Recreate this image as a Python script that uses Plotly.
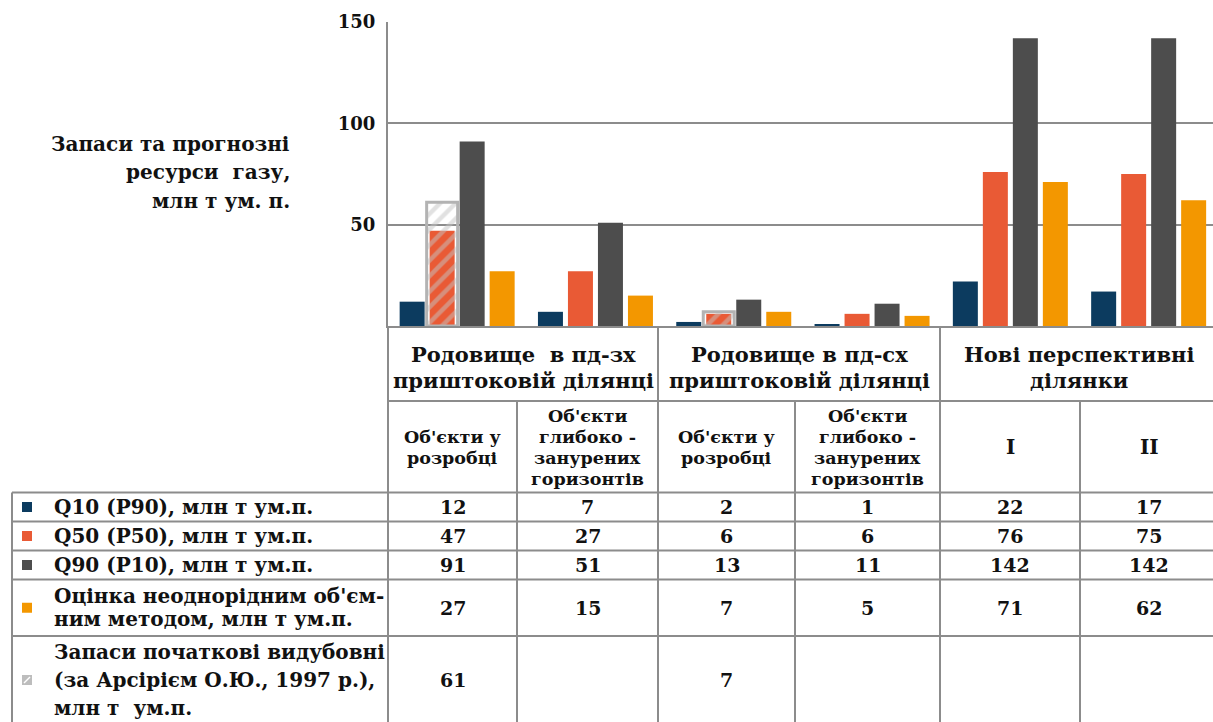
import plotly.graph_objects as go

# ---------------- data ----------------
group_headers = [["Родовище  в пд-зх", "приштоковій ділянці"],
                 ["Родовище в пд-сх", "приштоковій ділянці"],
                 ["Нові перспективні", "ділянки"]]
subcategories = [["Об'єкти у", "розробці"],
                 ["Об'єкти", "глибоко -", "занурених", "горизонтів"],
                 ["Об'єкти у", "розробці"],
                 ["Об'єкти", "глибоко -", "занурених", "горизонтів"],
                 ["I"], ["II"]]
q10 = [12, 7, 2, 1, 22, 17]
q50 = [47, 27, 6, 6, 76, 75]
q90 = [91, 51, 13, 11, 142, 142]
volumetric = [27, 15, 7, 5, 71, 62]
initial_reserves = [61, None, 7, None, None, None]

series_names = [["Q10 (P90), млн т ум.п."],
                ["Q50 (P50), млн т ум.п."],
                ["Q90 (P10), млн т ум.п."],
                ["Оцінка неоднорідним об'єм-", "ним методом, млн т ум.п."],
                ["Запаси початкові видубовні", "(за Арсірієм О.Ю., 1997 р.),", "млн т  ум.п."]]
y_title_lines = ["Запаси та прогнозні", "ресурси  газу,", "млн т ум. п."]
y_ticks = [50, 100, 150]

# ---------------- style ----------------
FONT = "DejaVu Serif"
C_Q10 = "#0c3b5f"
C_Q50 = "#e95a35"
C_Q90 = "#4d4d4d"
C_VOL = "#f39700"
C_HATCH = "#b3b3b3"
GRID = "#8c8c8c"
TXT = "#111111"

W, H = 1213, 722
L, T = 388, 22
PW, PH = W - L, 304
CAT_PX = 138.3


def px(x):
    return (x - L) / PW


def py(y):
    return (T + PH - y) / PH


xs = list(range(len(q10)))
bw = 25 / CAT_PX
fig = go.Figure()
for vals, col, off, name in [(q10, C_Q10, -57.5, series_names[0][0]),
                             (q50, C_Q50, -27.5, series_names[1][0]),
                             (q90, C_Q90, 2.5, series_names[2][0]),
                             (volumetric, C_VOL, 32.5, " ".join(series_names[3]))]:
    fig.add_trace(go.Bar(x=xs, y=vals, width=bw, offset=off / CAT_PX,
                         marker=dict(color=col, line=dict(width=0)),
                         name=name, showlegend=False))

fig.add_trace(go.Bar(x=xs, y=initial_reserves, width=31 / CAT_PX,
                     offset=-30.5 / CAT_PX, name=" ".join(series_names[4]),
                     showlegend=False,
                     marker=dict(color="rgba(0,0,0,0)",
                                 line=dict(color=C_HATCH, width=3),
                                 pattern=dict(shape="/", fgcolor="#c4c4c4",
                                              bgcolor="rgba(0,0,0,0)",
                                              size=11, solidity=0.4,
                                              fillmode="overlay"))))

shapes = []


def hline(y, x0, x1):
    shapes.append(dict(type="line", xref="paper", yref="paper",
                       x0=px(x0), x1=px(x1), y0=py(y), y1=py(y),
                       line=dict(color=GRID, width=2)))


def vline(x, y0, y1):
    shapes.append(dict(type="line", xref="paper", yref="paper",
                       x0=px(x), x1=px(x), y0=py(y0), y1=py(y1),
                       line=dict(color=GRID, width=2)))


col_edges = [388, 517, 658, 795, 940, 1080, 1218]
row_edges = [492.5, 521.5, 550.5, 579.5, 636, 730]

# table lines
hline(401, 388, 1220)
for y in row_edges[:-1]:
    hline(y, 12, 1220)
vline(388, 326, 730)
vline(12, 492.5, 730)
for i, x in enumerate(col_edges[1:-1], start=1):
    vline(x, 326 if i % 2 == 0 else 401, 730)

annotations = []


def text(x, y, s, size, anchor="center"):
    annotations.append(dict(xref="paper", yref="paper", x=px(x), y=py(y),
                            text=f"<b>{s}</b>", showarrow=False, xanchor=anchor,
                            yanchor="middle",
                            font=dict(family=FONT, size=size, color=TXT)))


def lines(x, yc, parts, size, spacing, anchor="center"):
    n = len(parts)
    for k, p in enumerate(parts):
        text(x, yc + (k - (n - 1) / 2) * spacing, p, size, anchor)


# y axis title
lines(292, 172, y_title_lines, 20, 28.5, "right")

# group headers
for g, hdr in enumerate(group_headers):
    cx = (col_edges[2 * g] + col_edges[2 * g + 2]) / 2
    lines(cx, 367, hdr, 21, 26)

# subcategories
for i, sc in enumerate(subcategories):
    cx = (col_edges[i] + col_edges[i + 1]) / 2
    lines(cx, 447, sc, 20 if len(sc) == 1 else 17.5, 21)

# legend rows + values
series_vals = [q10, q50, q90, volumetric, initial_reserves]
swatch_cols = [C_Q10, C_Q50, C_Q90, C_VOL, "#bdbdbd"]
for r, (name, vals, sc) in enumerate(zip(series_names, series_vals, swatch_cols)):
    yc = (row_edges[r] + row_edges[r + 1]) / 2
    if r == 4:
        yc = 680
    lines(52, yc, name, 20, 23 if r == 3 else 28, "left")
    shapes.append(dict(type="rect", xref="paper", yref="paper",
                       x0=px(22), x1=px(32), y0=py(yc - 5), y1=py(yc + 5),
                       fillcolor=sc, line=dict(width=0)))
    if r == 4:
        shapes.append(dict(type="line", xref="paper", yref="paper",
                           x0=px(24), x1=px(30), y0=py(yc + 3), y1=py(yc - 3),
                           line=dict(color="white", width=1.5)))
    for i, v in enumerate(vals):
        if v is None:
            continue
        cx = (col_edges[i] + col_edges[i + 1]) / 2
        text(cx, yc, v, 19)

fig.update_layout(
    width=W, height=H,
    margin=dict(l=L, r=0, t=T, b=H - T - PH),
    plot_bgcolor="white", paper_bgcolor="white",
    barmode="overlay",
    shapes=shapes, annotations=annotations,
    font=dict(family=FONT, color=TXT),
    xaxis=dict(range=[-0.5, -0.5 + PW / CAT_PX], showticklabels=False,
               showgrid=False, zeroline=False, showline=True,
               linecolor=GRID, linewidth=2, ticks=""),
    yaxis=dict(range=[0, 150], tickvals=y_ticks,
               ticktext=[f"<b>{t}</b>" for t in y_ticks],
               tickfont=dict(family=FONT, size=18, color=TXT),
               showgrid=True, gridcolor=GRID, gridwidth=2,
               zeroline=False, showline=True, linecolor=GRID, linewidth=2,
               ticks="", ticklabelstandoff=7),
)

fig.write_html("out.html", config={"displayModeBar": False},
               post_script="document.body.style.margin='0';document.body.style.overflow='hidden';")
